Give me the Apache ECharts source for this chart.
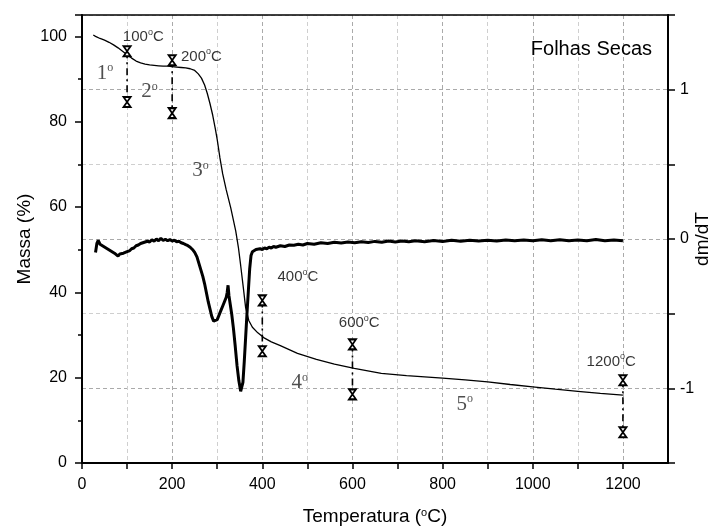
<!DOCTYPE html>
<html>
<head>
<meta charset="utf-8">
<script src="https://cdn.jsdelivr.net/npm/echarts@6/dist/echarts.min.js"></script>
<style>
  html, body { margin: 0; padding: 0; background: #fff; }
  #main { width: 717px; height: 527px; }
</style>
</head>
<body>
<div id="main"></div>
<script>
// curva de massa (TG)
var massT = [25, 30, 40, 50, 60, 70, 80, 90, 100, 110, 120, 130, 140, 150, 160, 170, 180, 190, 200, 210, 220, 230, 240, 250, 258, 265, 272, 278, 284, 290, 296, 300, 306, 312, 320, 330, 341, 347, 352, 358, 363, 370, 378, 390, 403, 420, 440, 478, 520, 560, 604, 664, 720, 800, 850, 900, 950, 1005, 1050, 1100, 1150, 1200];
var massV = [100.3, 100.0, 99.5, 99.1, 98.6, 98.0, 97.3, 96.5, 95.7, 94.9, 94.2, 93.8, 93.5, 93.3, 93.2, 93.1, 93.0, 93.0, 92.9, 92.8, 92.7, 92.6, 92.4, 92.0, 91.2, 90.2, 88.6, 86.6, 84.2, 81.5, 78.2, 75.8, 71.5, 67.8, 64.0, 59.8, 54.4, 50.5, 46.3, 41.0, 36.4, 33.4, 31.8, 30.5, 29.4, 28.4, 27.5, 25.7, 24.3, 23.2, 22.2, 21.0, 20.5, 19.9, 19.5, 19.0, 18.4, 17.8, 17.3, 16.8, 16.3, 15.9];

// derivada (dm/dT)
var dtgT = [30, 33, 36, 40, 44, 48, 52, 56, 60, 64, 68, 72, 76, 80, 84, 88, 92, 96, 100, 105, 110, 115, 120, 125, 130, 135, 140, 145, 150, 155, 160, 165, 170, 175, 180, 185, 190, 195, 200, 205, 210, 215, 220, 225, 230, 235, 240, 245, 250, 255, 260, 264, 268, 272, 276, 280, 284, 288, 292, 296, 300, 304, 308, 312, 316, 320, 322, 324, 326, 329, 332, 336, 340, 344, 348, 352, 354, 357, 360, 363, 366, 369, 372, 375, 378, 382, 386, 390, 395, 400, 405, 410, 415, 420, 425, 430, 440, 450, 460, 470, 480, 490, 500, 515, 530, 545, 560, 575, 590, 605, 620, 635, 650, 665, 680, 695, 710, 725, 740, 760, 780, 800, 820, 840, 860, 880, 900, 920, 940, 960, 980, 1000, 1020, 1040, 1060, 1080, 1100, 1120, 1140, 1160, 1180, 1200];
var dtgV = [-0.09, -0.03, -0.01, -0.035, -0.025, -0.05, -0.04, -0.065, -0.06, -0.08, -0.075, -0.095, -0.09, -0.115, -0.1, -0.11, -0.095, -0.1, -0.085, -0.08, -0.065, -0.06, -0.045, -0.04, -0.03, -0.025, -0.02, -0.015, -0.02, -0.005, -0.015, 0.0, -0.012, 0.005, -0.01, -0.002, -0.012, -0.004, -0.014, -0.008, -0.018, -0.015, -0.025, -0.03, -0.038, -0.045, -0.055, -0.07, -0.09, -0.12, -0.17, -0.21, -0.25, -0.3, -0.36, -0.42, -0.47, -0.52, -0.55, -0.56, -0.54, -0.51, -0.48, -0.45, -0.42, -0.39, -0.36, -0.31, -0.38, -0.44, -0.5, -0.6, -0.72, -0.85, -0.95, -1.02, -1.03, -0.96, -0.82, -0.66, -0.5, -0.35, -0.2, -0.11, -0.085, -0.08, -0.07, -0.075, -0.065, -0.07, -0.06, -0.065, -0.055, -0.06, -0.05, -0.055, -0.045, -0.05, -0.04, -0.042, -0.035, -0.04, -0.03, -0.035, -0.025, -0.03, -0.022, -0.027, -0.02, -0.025, -0.018, -0.023, -0.016, -0.022, -0.014, -0.02, -0.013, -0.019, -0.012, -0.018, -0.01, -0.016, -0.009, -0.015, -0.008, -0.014, -0.008, -0.013, -0.006, -0.012, -0.006, -0.012, -0.005, -0.011, -0.005, -0.012, -0.006, -0.011, -0.004, -0.012, -0.006, -0.011];

// marcadores de temperatura
var markT = [100, 200, 400, 600, 1200];
var markTop = [96.5, 94.4, 38.1, 27.8, 19.4];
var markBottom = [84.6, 82.0, 26.2, 16.1, 7.2];

// textos
var tempLabelT = [136, 265, 479, 615, 1174];
var tempLabelV = [99.8, 95.3, 43.7, 32.9, 23.8];
var tempLabelText = ['100', '200', '400', '600', '1200'];

var stageT = [51, 150, 263, 483, 849];
var stageV = [91.4, 87.0, 68.5, 18.9, 13.8];
var stageText = ['1', '2', '3', '4', '5'];

var sans = 'Liberation Sans, Arial, sans-serif';
var serif = 'Liberation Serif, Times New Roman, serif';

function zip(a, b) {
  return a.map(function (v, i) { return [v, b[i]]; });
}

var chart = echarts.init(document.getElementById('main'));

var series = [
  {
    name: 'massa', type: 'line', yAxisIndex: 0,
    data: zip(massT, massV), showSymbol: false, smooth: false,
    lineStyle: { color: '#000', width: 1.3 }, z: 5
  },
  {
    name: 'dtg', type: 'line', yAxisIndex: 1,
    data: zip(dtgT, dtgV), showSymbol: false,
    lineStyle: { color: '#000', width: 3 }, z: 4
  }
];

// linhas tracejadas com os marcadores
markT.forEach(function (t, i) {
  series.push({
    type: 'line', yAxisIndex: 0,
    data: [[t, markTop[i]], [t, markBottom[i]]],
    symbol: 'path://M0,0L10,0L5,7L10,14L0,14L5,7Z',
    symbolSize: [7, 10], showSymbol: true,
    itemStyle: { color: '#fff', borderColor: '#000', borderWidth: 1.8 },
    lineStyle: { color: '#000', width: 1.6, type: [7, 4, 2, 4] },
    z: 6
  });
});

series.push({
  type: 'scatter', yAxisIndex: 0, symbolSize: 0,
  data: tempLabelT.map(function (t, i) { return [t, tempLabelV[i], tempLabelText[i]]; }),
  label: {
    show: true, position: 'inside',
    formatter: function (p) { return '{a|' + p.data[2] + '}{s|o}{a|C}'; },
    rich: {
      a: { fontFamily: sans, fontSize: 15, color: '#000', lineHeight: 18 },
      s: { fontFamily: sans, fontSize: 9, color: '#000', verticalAlign: 'top', lineHeight: 18 }
    }
  },
  z: 7
});

series.push({
  type: 'scatter', yAxisIndex: 0, symbolSize: 0,
  data: stageT.map(function (t, i) { return [t, stageV[i], stageText[i]]; }),
  label: {
    show: true, position: 'inside',
    formatter: function (p) { return '{a|' + p.data[2] + '}{s|o}'; },
    rich: {
      a: { fontFamily: serif, fontSize: 21, color: '#222', lineHeight: 22 },
      s: { fontFamily: serif, fontSize: 12, color: '#222', verticalAlign: 'top', lineHeight: 22 }
    }
  },
  z: 7
});

var option = {
  animation: false,
  backgroundColor: '#fff',
  title: {
    text: 'Folhas Secas', right: 60, top: 34,
    textStyle: { fontFamily: sans, fontSize: 20, fontWeight: 'normal', color: '#000' }
  },
  grid: { left: 82, right: 49, top: 15, bottom: 64, outerBoundsMode: 'none', containLabel: false },
  xAxis: [
    {
      type: 'value', min: 0, max: 1300, interval: 100, position: 'bottom',
      name: 'Temperatura ({s|o}C)', nameLocation: 'middle', nameGap: 44, nameMoveOverlap: false,
      nameTextStyle: {
        fontFamily: sans, fontSize: 19, color: '#000',
        rich: { s: { fontFamily: sans, fontSize: 11, verticalAlign: 'top', color: '#000' } }
      },
      axisLine: { onZero: false, lineStyle: { color: '#000', width: 2 } },
      axisTick: { inside: false, length: 6, lineStyle: { color: '#000', width: 1.5 } },
      axisLabel: {
        margin: 14, fontFamily: sans, fontSize: 16, color: '#000', showMaxLabel: false,
        formatter: function (v) { return v % 200 === 0 ? String(v) : ''; }
      },
      splitLine: { show: true, lineStyle: { color: ['#aaa', '#cfcfcf'], type: [4, 3], width: 1 } }
    },
    {
      type: 'value', min: 0, max: 1300, position: 'top',
      axisLine: { show: true, onZero: false, lineStyle: { color: '#000', width: 1.5 } },
      axisTick: { show: false }, axisLabel: { show: false }, splitLine: { show: false }
    }
  ],
  yAxis: [
    {
      type: 'value', min: 0, max: 105, interval: 20, position: 'left',
      name: 'Massa (%)', nameLocation: 'middle', nameGap: 48, nameMoveOverlap: false,
      nameTextStyle: { fontFamily: sans, fontSize: 19, color: '#000' },
      axisLine: { show: true, onZero: false, lineStyle: { color: '#000', width: 2 } },
      axisTick: { inside: false, length: 7, lineStyle: { color: '#000', width: 1.5 } },
      minorTick: { show: true, splitNumber: 2, length: 4, lineStyle: { color: '#000', width: 1.5 } },
      axisLabel: { margin: 15, fontFamily: sans, fontSize: 16, color: '#000', showMaxLabel: false },
      splitLine: { show: false }
    },
    {
      type: 'value', min: -1.5, max: 1.5, interval: 0.5, position: 'right',
      name: 'dm/dT', nameLocation: 'middle', nameGap: 25, nameRotate: 90, nameMoveOverlap: false,
      nameTextStyle: { fontFamily: sans, fontSize: 19, color: '#000' },
      axisLine: { show: true, onZero: false, lineStyle: { color: '#000', width: 2 } },
      axisTick: { inside: false, length: 7, lineStyle: { color: '#000', width: 1.5 } },
      axisLabel: {
        margin: 12, fontFamily: sans, fontSize: 16, color: '#000',
        formatter: function (v) { return (Math.abs(v) === 1 || v === 0) ? String(v) : ''; }
      },
      splitLine: { show: true, lineStyle: { color: ['#cfcfcf', '#aaa'], type: [4, 3], width: 1 } }
    }
  ],
  series: series
};

chart.setOption(option);
</script>
</body>
</html>
